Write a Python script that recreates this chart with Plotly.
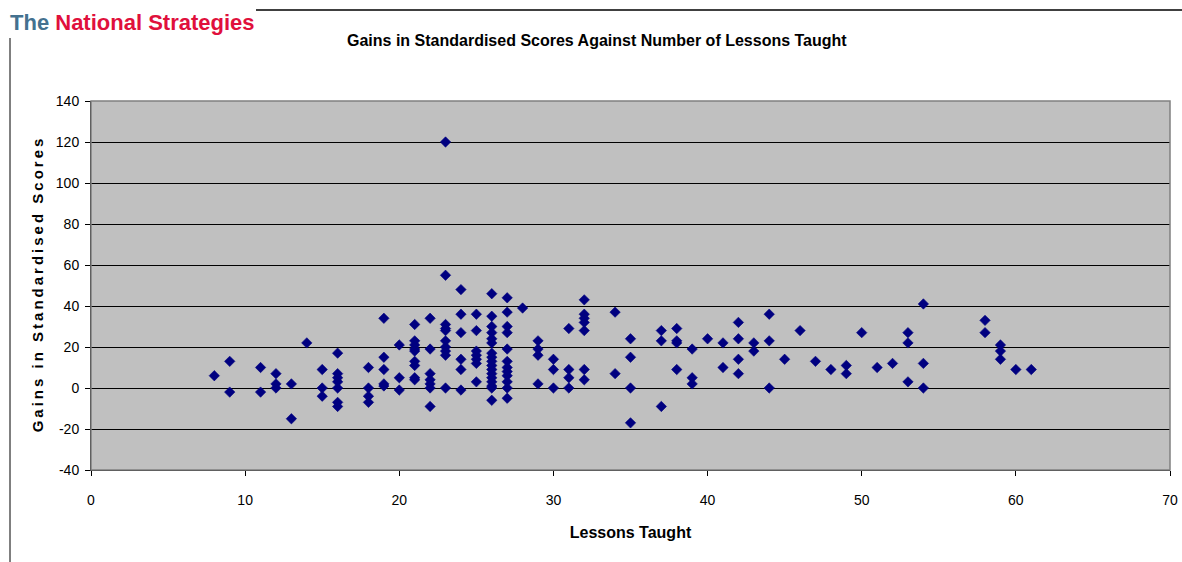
import plotly.graph_objects as go

# Lessons taught (x) and gains in standardised scores (y), grouped by lesson count
lessons = (
    [8] + [9]*2 + [11]*2 + [12]*3 + [13]*2 + [14] + [15]*3 + [16]*7 + [18]*4 + [19]*5 + [20]*3
    + [21]*9 + [22]*7 + [23]*10 + [24]*6 + [25]*7 + [26]*17 + [27]*12 + [28] + [29]*4 + [30]*3
    + [31]*4 + [32]*7 + [34]*2 + [35]*4 + [37]*3 + [38]*4 + [39]*3 + [40] + [41]*2 + [42]*4
    + [43]*2 + [44]*3 + [45] + [46] + [47] + [48] + [49]*2 + [50] + [51] + [52] + [53]*3
    + [54]*3 + [58]*2 + [59]*3 + [60] + [61]
)
gains = [
    6,
    13, -2,
    10, -2,
    7, 2, 0,
    2, -15,
    22,
    9, 0, -4,
    17, 7, 5, 3, 0, -7, -9,
    10, 0, -4, -7,
    34, 15, 9, 2, 1,
    21, 5, -1,
    31, 23, 21, 19, 18, 13, 11, 5, 4,
    34, 19, 7, 4, 2, 0, -9,
    120, 55, 31, 29, 28, 23, 20, 18, 16, 0,
    48, 36, 27, 14, 9, -1,
    36, 28, 18, 16, 14, 12, 3,
    46, 35, 30, 27, 24, 22, 17, 15, 13, 11, 9, 7, 5, 3, 1, 0, -6,
    44, 37, 30, 27, 19, 13, 10, 8, 6, 3, 0, -5,
    39,
    23, 19, 16, 2,
    14, 9, 0,
    29, 9, 5, 0,
    43, 36, 34, 32, 28, 9, 4,
    37, 7,
    24, 15, 0, -17,
    28, 23, -9,
    29, 23, 22, 9,
    19, 5, 2,
    24,
    22, 10,
    32, 24, 14, 7,
    22, 18,
    36, 23, 0,
    14,
    28,
    13,
    9,
    11, 7,
    27,
    10,
    12,
    27, 22, 3,
    41, 12, 0,
    33, 27,
    21, 18, 14,
    9,
    9,
]

x_ticks = [0, 10, 20, 30, 40, 50, 60, 70]
y_ticks = [-40, -20, 0, 20, 40, 60, 80, 100, 120, 140]

title_text = "Gains in Standardised Scores Against Number of Lessons Taught"
x_title = "Lessons Taught"
y_title = "Gains in Standardised Scores"

W, H = 1182, 562
L, R, T, B = 91, 1170, 101, 470

def px(x):
    return (x - L) / (R - L)

def py(y):
    return (B - y) / (B - T)

def spaced(s):
    # slight letter spacing as in the original axis title
    return "\u2009".join(s)

fig = go.Figure()
fig.add_trace(go.Scatter(
    x=lessons, y=gains, mode="markers",
    marker=dict(symbol="diamond", size=8, color="#000080",
                line=dict(color="#000080", width=0.6)),
    showlegend=False, hoverinfo="x+y",
))

FONT = "Liberation Sans Narrow, Arial Narrow, Liberation Sans, Arial, sans-serif"
axis_font = dict(family=FONT, size=14, color="#000")

fig.update_layout(
    width=W, height=H,
    margin=dict(l=L, r=W - R, t=T, b=H - B, pad=0, autoexpand=False),
    paper_bgcolor="white",
    plot_bgcolor="#C0C0C0",
    showlegend=False,
    xaxis=dict(
        range=[0, 70], tickvals=x_ticks, ticktext=[str(v) for v in x_ticks],
        automargin=False,
        showgrid=False, zeroline=False,
        showline=True, linecolor="#000", linewidth=1, mirror=False,
        ticks="outside", ticklen=5, tickcolor="#000", tickwidth=1,
        ticklabelstandoff=12,
        tickfont=axis_font,
        title=dict(text="<b>" + x_title + "</b>", standoff=20,
                   font=dict(family=FONT, size=16, color="#000")),
    ),
    yaxis=dict(
        range=[-40, 140], tickvals=y_ticks, ticktext=[str(v) for v in y_ticks],
        automargin=False,
        showgrid=True, gridcolor="#000", gridwidth=1,
        zeroline=False,
        showline=True, linecolor="#000", linewidth=1,
        ticks="outside", ticklen=5, tickcolor="#000", tickwidth=1,
        ticklabelstandoff=3,
        tickfont=axis_font,
        title=dict(text="<b>" + spaced(y_title) + "</b>", standoff=8,
                   font=dict(family="Liberation Sans, Arial, sans-serif", size=15, color="#000")),
    ),
)

# Plot frame (grey border)
fig.add_shape(type="rect", xref="paper", yref="paper", x0=0, x1=1, y0=0, y1=1,
              line=dict(color="#808080", width=1.5), fillcolor="rgba(0,0,0,0)", layer="above")

# Decorative page lines
fig.add_shape(type="line", xref="paper", yref="paper",
              x0=px(256), x1=px(1182), y0=py(10), y1=py(10),
              line=dict(color="#404040", width=2))
fig.add_shape(type="line", xref="paper", yref="paper",
              x0=px(10), x1=px(10), y0=py(38), y1=py(562),
              line=dict(color="#000", width=1))

# Logo text
fig.add_annotation(
    xref="paper", yref="paper", x=px(8), y=py(22), xanchor="left", yanchor="middle",
    showarrow=False,
    text="<b><span style='color:#44718f'>The</span> <span style='color:#e0103c'>National Strategies</span></b>",
    font=dict(family="Liberation Sans, Arial, sans-serif", size=22),
)

# Chart title
fig.add_annotation(
    xref="paper", yref="paper", x=px(597), y=py(40), xanchor="center", yanchor="middle",
    showarrow=False, text="<b>" + title_text + "</b>",
    font=dict(family=FONT, size=16, color="#000"),
)

fig.write_html("out.html",
               config={"displayModeBar": False},
               post_script="document.body.style.margin='0';document.body.style.overflow='hidden';")
